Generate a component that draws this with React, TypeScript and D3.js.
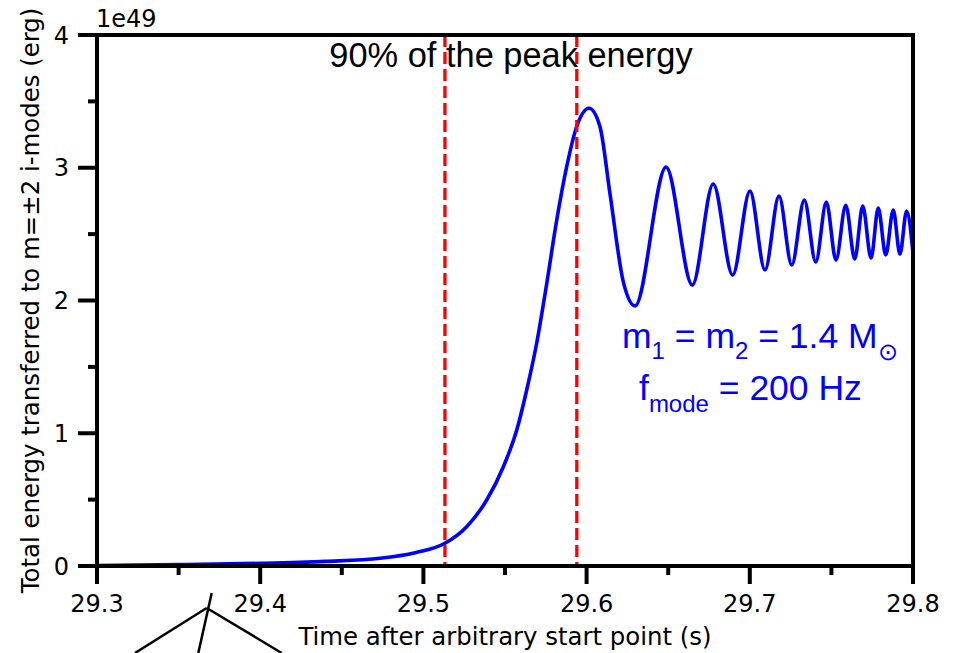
import React from "react";
import * as d3 from "d3";

// Time (s) and energy (1e49 erg)
const times = [
  29.3, 29.35, 29.4, 29.44, 29.4734, 29.495, 29.5132, 29.5265, 29.5388, 29.549,
  29.5572, 29.5633, 29.5694, 29.5756, 29.5817, 29.5878, 29.5939, 29.6015,
  29.6082, 29.6143, 29.6225,
  29.6297, 29.6487, 29.6648, 29.6776, 29.6895, 29.7001, 29.7093, 29.7179,
  29.7257, 29.7334, 29.7404, 29.7469, 29.7528, 29.7588, 29.7643, 29.7692,
  29.7743, 29.7787, 29.7833, 29.7879, 29.792, 29.7961, 29.8,
];
const energy = [
  0.004, 0.01, 0.02, 0.035, 0.058, 0.1, 0.171, 0.296, 0.497, 0.748,
  1.024, 1.326, 1.678, 2.13, 2.606, 3.008, 3.309, 3.448,
  3.309, 2.807, 2.14,
  1.959, 3.005, 2.117, 2.878, 2.192, 2.824, 2.23, 2.786,
  2.267, 2.756, 2.29, 2.741, 2.305, 2.718, 2.313, 2.711,
  2.32, 2.696, 2.343, 2.681, 2.35, 2.673, 2.358,
];
const markerTimes = [29.5132, 29.594];
const xTicks = [29.3, 29.4, 29.5, 29.6, 29.7, 29.8];
const xMinorTicks = [29.35, 29.45, 29.55, 29.65, 29.75];
const yTicks = [0, 1, 2, 3, 4];
const yMinorTicks = [0.5, 1.5, 2.5, 3.5];

const W = 958;
const H = 653;
const L = 97, R = 913, T = 35, B = 566;

export default function App() {
  const x = d3.scaleLinear().domain([29.3, 29.8]).range([L, R]);
  const y = d3.scaleLinear().domain([0, 4]).range([B, T]);
  const pts = times.map((t, i) => [t, energy[i]] as [number, number]);
  const line = d3
    .line<[number, number]>()
    .x((d) => x(d[0]))
    .y((d) => y(d[1]))
    .curve(d3.curveMonotoneX);
  const dv = "DejaVu Sans";
  const lib = "Liberation Sans";
  return (
    <svg
      width={W}
      height={H}
      style={{ position: "absolute", left: 0, top: 0, background: "#fff" }}
    >
      <defs>
        <clipPath id="clip">
          <rect x={L} y={T} width={R - L} height={B - T} />
        </clipPath>
      </defs>
      <rect x={0} y={0} width={W} height={H} fill="#fff" />
      <g clipPath="url(#clip)">
        <path d={line(pts) || ""} fill="none" stroke="#0000ff" strokeWidth={3.6} />
        {markerTimes.map((m) => (
          <line
            key={m}
            x1={x(m)}
            x2={x(m)}
            y1={T}
            y2={B}
            stroke="#ff0000"
            strokeWidth={3.3}
            strokeDasharray="12,5"
          />
        ))}
      </g>
      {/* frame */}
      <rect x={L} y={T} width={R - L} height={B - T} fill="none" stroke="#000" strokeWidth={4} />
      {/* x ticks */}
      {xTicks.map((t) => (
        <g key={t}>
          <line x1={x(t)} x2={x(t)} y1={B} y2={B + 18} stroke="#000" strokeWidth={4} />
          <text x={x(t)} y={612} textAnchor="middle" fontFamily={dv} fontSize={24}>
            {t.toFixed(1)}
          </text>
        </g>
      ))}
      {xMinorTicks.map((t) => (
        <line key={t} x1={x(t)} x2={x(t)} y1={B} y2={B + 9} stroke="#000" strokeWidth={4} />
      ))}
      {yTicks.map((v) => (
        <g key={v}>
          <line x1={L - 19} x2={L} y1={y(v)} y2={y(v)} stroke="#000" strokeWidth={4} />
          <text x={69} y={y(v) + 8.5} textAnchor="end" fontFamily={dv} fontSize={24}>
            {v}
          </text>
        </g>
      ))}
      {yMinorTicks.map((v) => (
        <line key={v} x1={L - 9} x2={L} y1={y(v)} y2={y(v)} stroke="#000" strokeWidth={4} />
      ))}
      <text x={96} y={27} fontFamily={dv} fontSize={24}>1e49</text>
      <text x={(L + R) / 2} y={645} textAnchor="middle" fontFamily={dv} fontSize={24.4}>
        Time after arbitrary start point (s)
      </text>
      <text
        transform={`translate(39, ${(T + B) / 2}) rotate(-90)`}
        textAnchor="middle"
        fontFamily={dv}
        fontSize={24.4}
      >
        Total energy transferred to m=±2 i-modes (erg)
      </text>
      <text x={511} y={67} textAnchor="middle" fontFamily={lib} fontSize={34.4}>
        90% of the peak energy
      </text>
      {/* annotation */}
      <text x={622} y={348} fontFamily={lib} fontSize={35.5} fill="#0000ff">
        m<tspan dy={11} fontSize={24}>1</tspan>
        <tspan dy={-11}> = m</tspan>
        <tspan dy={11} fontSize={24}>2</tspan>
        <tspan dy={-11}> = 1.4 M</tspan>
        <tspan dy={12} fontSize={24}>⊙</tspan>
      </text>
      <text x={639} y={400} fontFamily={lib} fontSize={35.5} fill="#0000ff">
        f<tspan dy={12} fontSize={24}>mode</tspan>
        <tspan dy={-12}> = 200 Hz</tspan>
      </text>
      {/* stray annotation strokes below the axis */}
      <g stroke="#000" strokeWidth={2.5} fill="none">
        <line x1={211.7} y1={593} x2={198.3} y2={653} />
        <line x1={206.7} y1={608} x2={135} y2={653} />
        <line x1={206.7} y1={608} x2={281.7} y2={653} />
      </g>
    </svg>
  );
}
